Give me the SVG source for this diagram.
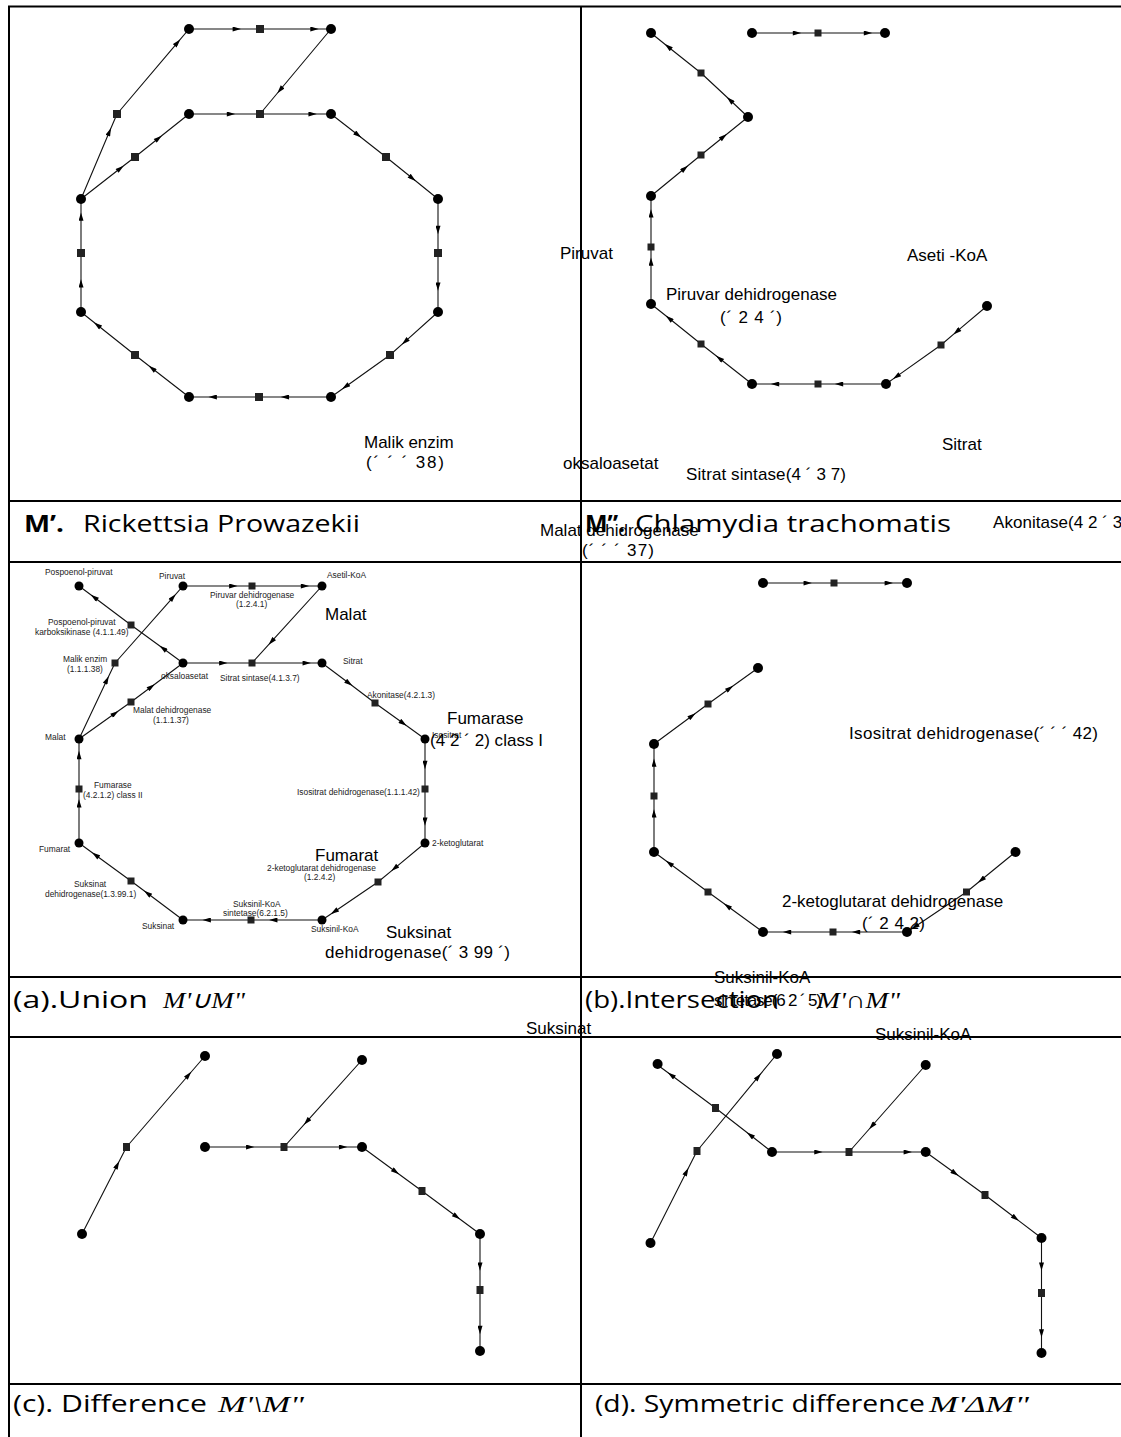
<svg xmlns="http://www.w3.org/2000/svg" width="1121" height="1437" viewBox="0 0 1121 1437">
<defs>
<marker id="ah" viewBox="0 0 10 6" refX="5" refY="3" markerWidth="10" markerHeight="5" markerUnits="userSpaceOnUse" orient="auto"><path d="M0,0 L10,3 L0,6 Z" fill="#000"/></marker>
</defs>
<style>
.grid{stroke:#000;stroke-width:2;fill:none}
.e{stroke:#111;stroke-width:1.1;fill:none;marker-mid:url(#ah)}
.c{fill:#000}
.s{fill:#222}
.lbl{font-family:"Liberation Sans",Arial,sans-serif;font-size:8.4px;fill:#222}
.big{font-family:"Liberation Sans",Arial,sans-serif;font-size:17px;fill:#000}
.cap{font-family:"Open Sans","Liberation Sans",sans-serif;font-size:23px;fill:#000}
.capb{font-weight:bold}
.math{font-family:"Liberation Serif","Times New Roman",serif;font-style:italic;font-size:24px;fill:#000}
</style>
<rect width="1121" height="1437" fill="#fff"/>
<g id="grid" class="grid">
<path d="M8 6.5 H1121 M9 5.5 V1437 M581 6 V1437 M8 501 H1121 M8 562 H1121 M8 977 H1121 M8 1037 H1121 M8 1384 H1121"/>
</g>
<g id="connectors">
<path class="e" d="M81 199 L109.4 131.8 L117 114"/>
<path class="e" d="M117 114 L177.5 42.6 L189 29"/>
<path class="e" d="M189 29 L236.8 29 L260 29"/>
<path class="e" d="M260 29 L314.5 29 L331 29"/>
<path class="e" d="M331 29 L280 90 L260 114"/>
<path class="e" d="M189 114 L231 114 L260 114"/>
<path class="e" d="M260 114 L312.6 114 L331 114"/>
<path class="e" d="M81 199 L120.4 168.3 L135 157"/>
<path class="e" d="M135 157 L158.5 138.3 L189 114"/>
<path class="e" d="M331 114 L358 135 L386 157"/>
<path class="e" d="M386 157 L412.4 178.3 L438 199"/>
<path class="e" d="M438 199 L438 230 L438 253"/>
<path class="e" d="M438 253 L438 286.7 L438 312"/>
<path class="e" d="M438 312 L405 341.7 L390 355"/>
<path class="e" d="M390 355 L345.5 386.7 L331 397"/>
<path class="e" d="M331 397 L284.9 397 L259 397"/>
<path class="e" d="M259 397 L212.7 397 L189 397"/>
<path class="e" d="M189 397 L152 368.3 L135 355"/>
<path class="e" d="M135 355 L97.3 325 L81 312"/>
<path class="e" d="M81 312 L81 283.3 L81 253"/>
<path class="e" d="M81 253 L81 216.7 L81 199"/>

<path class="e" d="M752 33 L797 33 L818 33"/>
<path class="e" d="M818 33 L868 33 L885 33"/>
<path class="e" d="M748 117 L730 100 L701 73"/>
<path class="e" d="M701 73 L668 46.7 L651 33"/>
<path class="e" d="M651 196 L684.8 168.3 L701 155"/>
<path class="e" d="M701 155 L723.6 136.7 L748 117"/>
<path class="e" d="M651 304 L651 261.7 L651 247"/>
<path class="e" d="M651 247 L651 213.3 L651 196"/>
<path class="e" d="M752 384 L719.3 358.3 L701 344"/>
<path class="e" d="M701 344 L669 318.3 L651 304"/>
<path class="e" d="M886 384 L839 384 L818 384"/>
<path class="e" d="M818 384 L775 384 L752 384"/>
<path class="e" d="M987 306 L956.6 331.7 L941 345"/>
<path class="e" d="M941 345 L896.4 376.6 L886 384"/>

<path class="e" d="M183 663 L162.9 648.3 L131 625"/>
<path class="e" d="M131 625 L94.1 597.3 L79 586"/>
<path class="e" d="M79 739 L106.9 680 L115 663"/>
<path class="e" d="M115 663 L173 597.3 L183 586"/>
<path class="e" d="M183 586 L233.3 586 L252 586"/>
<path class="e" d="M252 586 L305 586 L322 586"/>
<path class="e" d="M322 586 L271.4 641.7 L252 663"/>
<path class="e" d="M183 663 L223.3 663 L252 663"/>
<path class="e" d="M252 663 L306.7 663 L322 663"/>
<path class="e" d="M79 739 L115.1 713.3 L131 702"/>
<path class="e" d="M131 702 L151.4 686.7 L183 663"/>
<path class="e" d="M322 663 L349 683.3 L375 703"/>
<path class="e" d="M375 703 L403.2 723.3 L425 739"/>
<path class="e" d="M425 739 L425 765 L425 789"/>
<path class="e" d="M425 789 L425 821.7 L425 843"/>
<path class="e" d="M425 843 L394.5 868.3 L378 882"/>
<path class="e" d="M378 882 L334.3 911.7 L322 920"/>
<path class="e" d="M322 920 L273.3 920 L251 920"/>
<path class="e" d="M251 920 L206.7 920 L183 920"/>
<path class="e" d="M183 920 L147.4 893.3 L131 881"/>
<path class="e" d="M131 881 L95.4 855 L79 843"/>
<path class="e" d="M79 843 L79 803.3 L79 789"/>
<path class="e" d="M79 789 L79 755 L79 739"/>

<path class="e" d="M763 583 L807.7 583 L834 583"/>
<path class="e" d="M834 583 L888.8 583 L907 583"/>
<path class="e" d="M654 744 L692.2 715.7 L708 704"/>
<path class="e" d="M708 704 L729.8 688.3 L758 668"/>
<path class="e" d="M654 852 L654 813.3 L654 796"/>
<path class="e" d="M654 796 L654 762.7 L654 744"/>
<path class="e" d="M763 932 L727.3 906 L708 892"/>
<path class="e" d="M708 892 L669.3 863.3 L654 852"/>
<path class="e" d="M907 932 L856 932 L833 932"/>
<path class="e" d="M833 932 L787 932 L763 932"/>
<path class="e" d="M1015.5 852 L981.2 880 L966.5 892"/>
<path class="e" d="M966.5 892 L914.9 926.7 L907 932"/>

<path class="e" d="M82 1234 L117.3 1165 L126.5 1147"/>
<path class="e" d="M126.5 1147 L188.6 1075 L205 1056"/>
<path class="e" d="M205 1147 L250.2 1147 L284 1147"/>
<path class="e" d="M284 1147 L343.1 1147 L362 1147"/>
<path class="e" d="M362 1060 L306.7 1121.7 L284 1147"/>
<path class="e" d="M362 1147 L395.7 1171.7 L422 1191"/>
<path class="e" d="M422 1191 L456.7 1216.7 L480 1234"/>
<path class="e" d="M480 1234 L480 1266.7 L480 1290"/>
<path class="e" d="M480 1290 L480 1330 L480 1351"/>

<path class="e" d="M772 1152 L750.2 1135 L715.5 1108"/>
<path class="e" d="M715.5 1108 L671.1 1075 L657.6 1065"/>
<path class="e" d="M650.5 1243 L686.5 1171.7 L697 1151"/>
<path class="e" d="M697 1151 L758.3 1076.7 L777 1054"/>
<path class="e" d="M772 1152 L818.4 1152 L849 1152"/>
<path class="e" d="M849 1152 L907.8 1152 L925.7 1152"/>
<path class="e" d="M925.7 1065 L871.9 1126 L849 1152"/>
<path class="e" d="M925.7 1152 L955.1 1173.3 L985 1195"/>
<path class="e" d="M985 1195 L1015.6 1218.3 L1041.5 1238"/>
<path class="e" d="M1041.5 1238 L1041.5 1266.7 L1041.5 1293"/>
<path class="e" d="M1041.5 1293 L1041.5 1333.3 L1041.5 1353"/>
</g>

<!-- M' nodes -->
<g id="a-c1"><circle class="c" cx="189" cy="29" r="5"/></g>
<g id="a-c2"><circle class="c" cx="331" cy="29" r="5"/></g>
<g id="a-c3"><circle class="c" cx="189" cy="114" r="5"/></g>
<g id="a-c4"><circle class="c" cx="331" cy="114" r="5"/></g>
<g id="a-c5"><circle class="c" cx="81" cy="199" r="5"/></g>
<g id="a-c6"><circle class="c" cx="438" cy="199" r="5"/></g>
<g id="a-c7"><circle class="c" cx="438" cy="312" r="5"/></g>
<g id="a-c8"><circle class="c" cx="331" cy="397" r="5"/></g>
<g id="a-c9"><circle class="c" cx="189" cy="397" r="5"/></g>
<g id="a-c10"><circle class="c" cx="81" cy="312" r="5"/></g>
<g id="a-s1"><rect class="s" x="256" y="25" width="8" height="8"/></g>
<g id="a-s2"><rect class="s" x="256" y="110" width="8" height="8"/></g>
<g id="a-s3"><rect class="s" x="113" y="110" width="8" height="8"/></g>
<g id="a-s4"><rect class="s" x="131" y="153" width="8" height="8"/></g>
<g id="a-s5"><rect class="s" x="382" y="153" width="8" height="8"/></g>
<g id="a-s6"><rect class="s" x="434" y="249" width="8" height="8"/></g>
<g id="a-s7"><rect class="s" x="386" y="351" width="8" height="8"/></g>
<g id="a-s8"><rect class="s" x="255" y="393" width="8" height="8"/></g>
<g id="a-s9"><rect class="s" x="131" y="351" width="8" height="8"/></g>
<g id="a-s10"><rect class="s" x="77" y="249" width="8" height="8"/></g>

<!-- M'' nodes -->
<g id="b-c1"><circle class="c" cx="651" cy="33" r="5"/></g>
<g id="b-c2"><circle class="c" cx="752" cy="33" r="5"/></g>
<g id="b-c3"><circle class="c" cx="885" cy="33" r="5"/></g>
<g id="b-c4"><circle class="c" cx="748" cy="117" r="5"/></g>
<g id="b-c5"><circle class="c" cx="651" cy="196" r="5"/></g>
<g id="b-c6"><circle class="c" cx="651" cy="304" r="5"/></g>
<g id="b-c7"><circle class="c" cx="752" cy="384" r="5"/></g>
<g id="b-c8"><circle class="c" cx="886" cy="384" r="5"/></g>
<g id="b-c9"><circle class="c" cx="987" cy="306" r="5"/></g>
<g id="b-s1"><rect class="s" x="814.5" y="29.5" width="7" height="7"/></g>
<g id="b-s2"><rect class="s" x="697.5" y="69.5" width="7" height="7"/></g>
<g id="b-s3"><rect class="s" x="697.5" y="151.5" width="7" height="7"/></g>
<g id="b-s4"><rect class="s" x="647.5" y="243.5" width="7" height="7"/></g>
<g id="b-s5"><rect class="s" x="697.5" y="340.5" width="7" height="7"/></g>
<g id="b-s6"><rect class="s" x="814.5" y="380.5" width="7" height="7"/></g>
<g id="b-s7"><rect class="s" x="937.5" y="341.5" width="7" height="7"/></g>

<!-- Union nodes -->
<g id="u-c1"><circle class="c" cx="79" cy="586" r="4.5"/></g>
<g id="u-c2"><circle class="c" cx="183" cy="586" r="4.5"/></g>
<g id="u-c3"><circle class="c" cx="322" cy="586" r="4.5"/></g>
<g id="u-c4"><circle class="c" cx="183" cy="663" r="4.5"/></g>
<g id="u-c5"><circle class="c" cx="322" cy="663" r="4.5"/></g>
<g id="u-c6"><circle class="c" cx="79" cy="739" r="4.5"/></g>
<g id="u-c7"><circle class="c" cx="425" cy="739" r="4.5"/></g>
<g id="u-c8"><circle class="c" cx="425" cy="843" r="4.5"/></g>
<g id="u-c9"><circle class="c" cx="322" cy="920" r="4.5"/></g>
<g id="u-c10"><circle class="c" cx="183" cy="920" r="4.5"/></g>
<g id="u-c11"><circle class="c" cx="79" cy="843" r="4.5"/></g>
<g id="u-s1"><rect class="s" x="248.5" y="582.5" width="7" height="7"/></g>
<g id="u-s2"><rect class="s" x="127.5" y="621.5" width="7" height="7"/></g>
<g id="u-s3"><rect class="s" x="111.5" y="659.5" width="7" height="7"/></g>
<g id="u-s4"><rect class="s" x="248.5" y="659.5" width="7" height="7"/></g>
<g id="u-s5"><rect class="s" x="127.5" y="698.5" width="7" height="7"/></g>
<g id="u-s6"><rect class="s" x="371.5" y="699.5" width="7" height="7"/></g>
<g id="u-s7"><rect class="s" x="421.5" y="785.5" width="7" height="7"/></g>
<g id="u-s8"><rect class="s" x="374.5" y="878.5" width="7" height="7"/></g>
<g id="u-s9"><rect class="s" x="247.5" y="916.5" width="7" height="7"/></g>
<g id="u-s10"><rect class="s" x="127.5" y="877.5" width="7" height="7"/></g>
<g id="u-s11"><rect class="s" x="75.5" y="785.5" width="7" height="7"/></g>

<!-- Intersection nodes -->
<g id="i-c1"><circle class="c" cx="763" cy="583" r="5"/></g>
<g id="i-c2"><circle class="c" cx="907" cy="583" r="5"/></g>
<g id="i-c3"><circle class="c" cx="758" cy="668" r="5"/></g>
<g id="i-c4"><circle class="c" cx="654" cy="744" r="5"/></g>
<g id="i-c5"><circle class="c" cx="654" cy="852" r="5"/></g>
<g id="i-c6"><circle class="c" cx="763" cy="932" r="5"/></g>
<g id="i-c7"><circle class="c" cx="907" cy="932" r="5"/></g>
<g id="i-c8"><circle class="c" cx="1015.5" cy="852" r="5"/></g>
<g id="i-s1"><rect class="s" x="830.5" y="579.5" width="7" height="7"/></g>
<g id="i-s2"><rect class="s" x="704.5" y="700.5" width="7" height="7"/></g>
<g id="i-s3"><rect class="s" x="650.5" y="792.5" width="7" height="7"/></g>
<g id="i-s4"><rect class="s" x="704.5" y="888.5" width="7" height="7"/></g>
<g id="i-s5"><rect class="s" x="829.5" y="928.5" width="7" height="7"/></g>
<g id="i-s6"><rect class="s" x="963" y="888.5" width="7" height="7"/></g>

<!-- Difference nodes -->
<g id="d-c1"><circle class="c" cx="205" cy="1056" r="5"/></g>
<g id="d-c2"><circle class="c" cx="82" cy="1234" r="5"/></g>
<g id="d-c3"><circle class="c" cx="362" cy="1060" r="5"/></g>
<g id="d-c4"><circle class="c" cx="205" cy="1147" r="5"/></g>
<g id="d-c5"><circle class="c" cx="362" cy="1147" r="5"/></g>
<g id="d-c6"><circle class="c" cx="480" cy="1234" r="5"/></g>
<g id="d-c7"><circle class="c" cx="480" cy="1351" r="5"/></g>
<g id="d-s1"><rect class="s" x="123" y="1143" width="7" height="8"/></g>
<g id="d-s2"><rect class="s" x="280.5" y="1143" width="7" height="8"/></g>
<g id="d-s3"><rect class="s" x="418.5" y="1187" width="7" height="8"/></g>
<g id="d-s4"><rect class="s" x="476.5" y="1286" width="7" height="8"/></g>

<!-- Symmetric difference nodes -->
<g id="s-c1"><circle class="c" cx="657.6" cy="1064" r="5"/></g>
<g id="s-c2"><circle class="c" cx="772" cy="1152" r="5"/></g>
<g id="s-c3"><circle class="c" cx="777" cy="1054" r="5"/></g>
<g id="s-c4"><circle class="c" cx="650.5" cy="1243" r="5"/></g>
<g id="s-c5"><circle class="c" cx="925.7" cy="1065" r="5"/></g>
<g id="s-c6"><circle class="c" cx="925.7" cy="1152" r="5"/></g>
<g id="s-c7"><circle class="c" cx="1041.5" cy="1238" r="5"/></g>
<g id="s-c8"><circle class="c" cx="1041.5" cy="1353" r="5"/></g>
<g id="s-s1"><rect class="s" x="712" y="1104" width="7" height="8"/></g>
<g id="s-s2"><rect class="s" x="693.5" y="1147" width="7" height="8"/></g>
<g id="s-s3"><rect class="s" x="845.5" y="1148" width="7" height="8"/></g>
<g id="s-s4"><rect class="s" x="981.5" y="1191" width="7" height="8"/></g>
<g id="s-s5"><rect class="s" x="1038" y="1289" width="7" height="8"/></g>

<!-- Union small labels -->
<g id="union-labels" class="lbl">
<text x="45" y="575">Pospoenol-piruvat</text>
<text x="159" y="579.3">Piruvat</text>
<text x="210" y="597.6">Piruvar dehidrogenase</text>
<text x="236" y="606.6">(1.2.4.1)</text>
<text x="327" y="578.3">Asetil-KoA</text>
<text x="48" y="625">Pospoenol-piruvat</text>
<text x="35" y="635">karboksikinase (4.1.1.49)</text>
<text x="63" y="661.6">Malik enzim</text>
<text x="67" y="671.6">(1.1.1.38)</text>
<text x="161" y="679.3">oksaloasetat</text>
<text x="220" y="681">Sitrat sintase(4.1.3.7)</text>
<text x="343" y="664.3">Sitrat</text>
<text x="133" y="712.6">Malat dehidrogenase</text>
<text x="153" y="723.3">(1.1.1.37)</text>
<text x="45" y="740">Malat</text>
<text x="367" y="697.6">Akonitase(4.2.1.3)</text>
<text x="432" y="737.6">Isositrat</text>
<text x="297" y="795">Isositrat dehidrogenase(1.1.1.42)</text>
<text x="432" y="845.6">2-ketoglutarat</text>
<text x="267" y="871">2-ketoglutarat dehidrogenase</text>
<text x="304" y="880">(1.2.4.2)</text>
<text x="311" y="931.6">Suksinil-KoA</text>
<text x="233" y="906.6">Suksinil-KoA</text>
<text x="223" y="916">sintetase(6.2.1.5)</text>
<text x="142" y="929.3">Suksinat</text>
<text x="74" y="887.3">Suksinat</text>
<text x="45" y="897.3">dehidrogenase(1.3.99.1)</text>
<text x="39" y="851.6">Fumarat</text>
<text x="94" y="788.3">Fumarase</text>
<text x="83" y="798.3">(4.2.1.2) class II</text>
</g>

<!-- Captions -->
<g id="captions">
<text class="cap capb" x="24" y="532" textLength="40" lengthAdjust="spacingAndGlyphs">M’.</text>
<text class="cap" x="83" y="532" textLength="277" lengthAdjust="spacingAndGlyphs">Rickettsia Prowazekii</text>
<text class="cap capb" x="585" y="532" textLength="40" lengthAdjust="spacingAndGlyphs">M”.</text>
<text class="cap" x="635" y="532" textLength="316" lengthAdjust="spacingAndGlyphs">Chlamydia trachomatis</text>
<text class="cap" x="13" y="1008" textLength="135" lengthAdjust="spacingAndGlyphs">(a).Union</text>
<text class="math" x="163" y="1008" textLength="82" lengthAdjust="spacingAndGlyphs">M'∪M"</text>
<text class="cap" x="585" y="1008" textLength="194" lengthAdjust="spacingAndGlyphs">(b).Intersection</text>
<text class="math" x="817" y="1008" textLength="83" lengthAdjust="spacingAndGlyphs">M'∩M"</text>
<text class="cap" x="13" y="1412" textLength="194" lengthAdjust="spacingAndGlyphs">(c). Difference</text>
<text class="math" x="218" y="1412" textLength="86" lengthAdjust="spacingAndGlyphs">M'\M"</text>
<text class="cap" x="595" y="1412" textLength="330" lengthAdjust="spacingAndGlyphs">(d). Symmetric difference</text>
<text class="math" x="929" y="1412" textLength="100" lengthAdjust="spacingAndGlyphs">M'ΔM"</text>
</g>

<!-- Large overlay labels -->
<g id="overlay-labels" class="big">
<text x="364" y="448">Malik enzim</text>
<text x="366" y="468" textLength="78" lengthAdjust="spacing">(´ ´ ´ 38)</text>
<text x="560" y="259">Piruvat</text>
<text x="907" y="261">Aseti -KoA</text>
<text x="666" y="300">Piruvar dehidrogenase</text>
<text x="720" y="323" textLength="62" lengthAdjust="spacing">(´ 2 4 ´)</text>
<text x="942" y="450">Sitrat</text>
<text x="563" y="469">oksaloasetat</text>
<text x="686" y="480" textLength="160" lengthAdjust="spacing">Sitrat sintase(4 ´ 3 7)</text>
<text x="993" y="528" textLength="135" lengthAdjust="spacing">Akonitase(4 2 ´ 3)</text>
<text x="540" y="536">Malat dehidrogenase</text>
<text x="582" y="556" textLength="72" lengthAdjust="spacing">(´ ´ ´ 37)</text>
<text x="325" y="620">Malat</text>
<text x="447" y="724">Fumarase</text>
<text x="430" y="746" textLength="113" lengthAdjust="spacing">(4 2 ´ 2) class I</text>
<text x="849" y="739" textLength="249" lengthAdjust="spacing">Isositrat dehidrogenase(´ ´ ´ 42)</text>
<text x="315" y="861">Fumarat</text>
<text x="782" y="907">2-ketoglutarat dehidrogenase</text>
<text x="862" y="929" textLength="63" lengthAdjust="spacing">(´ 2 4 2)</text>
<text x="386" y="938">Suksinat</text>
<text x="325" y="958" textLength="185" lengthAdjust="spacing">dehidrogenase(´ 3 99 ´)</text>
<text x="714" y="983">Suksinil-KoA</text>
<text x="714" y="1006" textLength="108" lengthAdjust="spacing">sintetase(6 2 ´ 5)</text>
<text x="526" y="1034">Suksinat</text>
<text x="875" y="1040">Suksinil-KoA</text>
</g>
</svg>
